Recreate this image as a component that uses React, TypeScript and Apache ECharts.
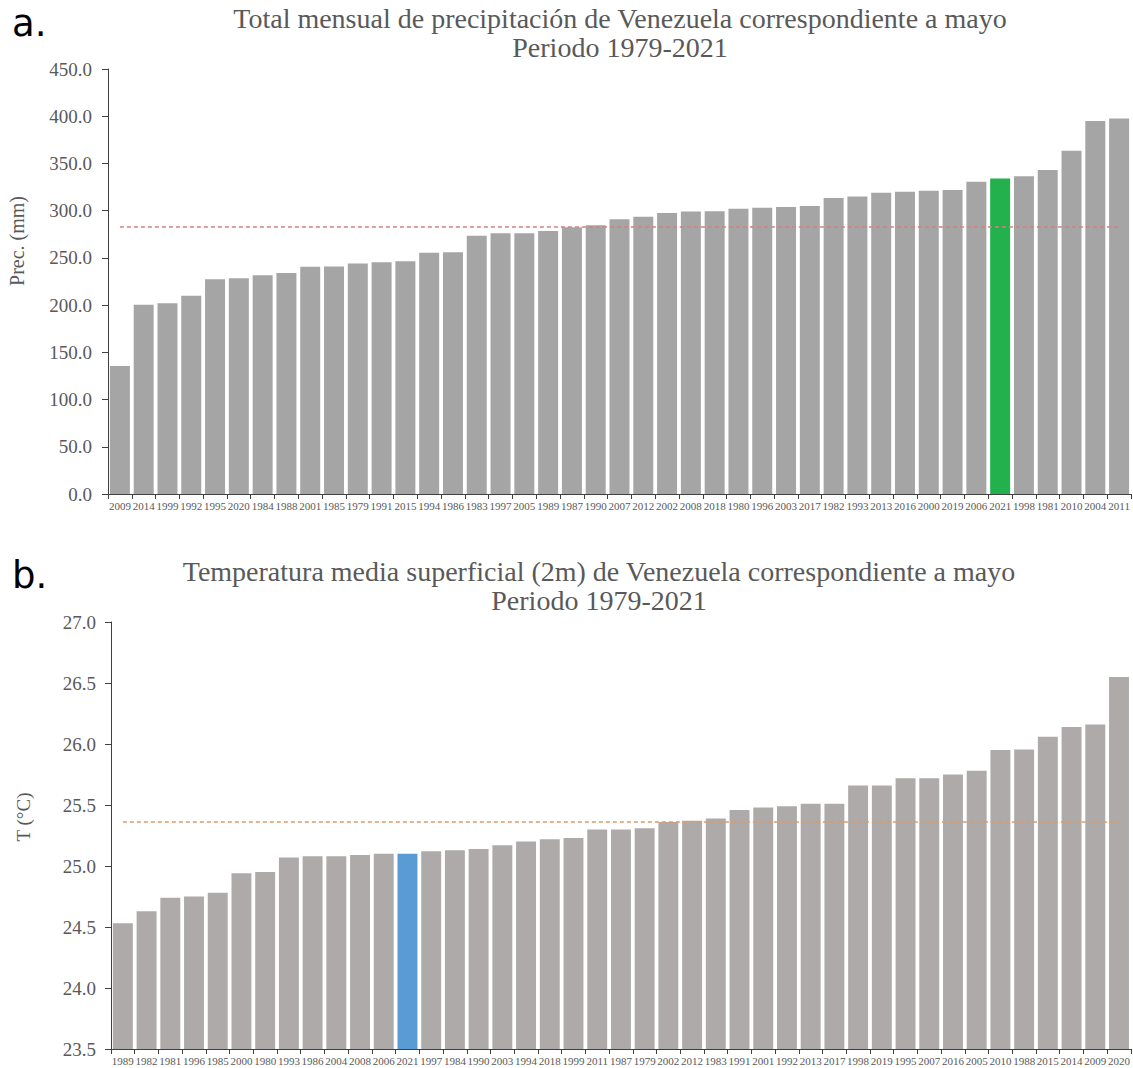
import React, { useEffect, useRef } from "react";
import * as echarts from "echarts";

const precipYears = [
  "2009", "2014", "1999", "1992", "1995", "2020", "1984", "1988", "2001", "1985", "1979",
  "1991", "2015", "1994", "1986", "1983", "1997", "2005", "1989", "1987", "1990", "2007",
  "2012", "2002", "2008", "2018", "1980", "1996", "2003", "2017", "1982", "1993", "2013",
  "2016", "2000", "2019", "2006", "2021", "1998", "1981", "2010", "2004", "2011",
];
const precipValues = [
  135.5, 200.5, 202.0, 210.0, 227.5, 228.5, 231.5, 234.0, 240.5, 241.0, 244.0,
  245.5, 246.5, 255.5, 256.0, 273.5, 276.0, 276.0, 278.5, 282.5, 284.5, 291.0,
  293.5, 297.5, 299.0, 299.5, 302.0, 303.0, 304.0, 305.0, 313.5, 315.0, 319.0,
  320.0, 321.0, 322.0, 330.5, 334.0, 336.5, 343.0, 363.5, 395.0, 397.5,
];
const precipMean = 282.7;

const tempYears = [
  "1989", "1982", "1981", "1996", "1985", "2000", "1980", "1993", "1986", "2004", "2008",
  "2006", "2021", "1997", "1984", "1990", "2003", "1994", "2018", "1999", "2011", "1987",
  "1979", "2002", "2012", "1983", "1991", "2001", "1992", "2013", "2017", "1998", "2019",
  "1995", "2007", "2016", "2005", "2010", "1988", "2015", "2014", "2009", "2020",
];
const tempValues = [
  24.53, 24.63, 24.74, 24.75, 24.78, 24.94, 24.95, 25.07, 25.08, 25.08, 25.09,
  25.10, 25.10, 25.12, 25.13, 25.14, 25.17, 25.20, 25.22, 25.23, 25.30, 25.30,
  25.31, 25.36, 25.37, 25.39, 25.46, 25.48, 25.49, 25.51, 25.51, 25.66, 25.66,
  25.72, 25.72, 25.75, 25.78, 25.95, 25.955, 26.06, 26.14, 26.16, 26.55,
];
const tempMean = 25.36;

const highlightYear = "2021";

const precipTitle = "Total mensual de precipitación de Venezuela correspondiente a mayo\nPeriodo 1979-2021";
const tempTitle = "Temperatura media superficial (2m) de Venezuela correspondiente a mayo\nPeriodo 1979-2021";

const SERIF = "'Liberation Serif', 'Times New Roman', serif";
const TEXT = "#595959";
const AXIS = "#404040";

export default function App() {
  const ref = useRef<HTMLDivElement>(null);

  useEffect(() => {
    if (!ref.current) return;
    const chart = echarts.init(ref.current, undefined, { renderer: "svg" });

    const xAxisCommon = (data: string[], gridIndex: number) => ({
      type: "category" as const,
      gridIndex,
      data,
      axisLine: { lineStyle: { color: AXIS, width: 1 } },
      axisTick: { show: true, length: 5, lineStyle: { color: AXIS } },
      axisLabel: { interval: 0, fontFamily: SERIF, fontSize: 11, color: TEXT, margin: 6 },
      splitLine: { show: false },
    });

    const yAxisCommon = (gridIndex: number, min: number, max: number, interval: number, margin: number) => ({
      type: "value" as const,
      gridIndex,
      min,
      max,
      interval,
      axisLine: { show: true, lineStyle: { color: AXIS, width: 1 } },
      axisTick: { show: true, length: 6, lineStyle: { color: AXIS } },
      axisLabel: {
        fontFamily: SERIF,
        fontSize: 19,
        color: TEXT,
        margin,
        formatter: (v: number) => v.toFixed(1),
      },
      splitLine: { show: false },
    });

    const barData = (years: string[], values: number[], color: string) =>
      values.map((v, i) =>
        years[i] === highlightYear ? { value: v, itemStyle: { color } } : v
      );

    const titleStyle = {
      fontFamily: SERIF,
      fontSize: 28,
      fontWeight: "normal" as const,
      color: TEXT,
      lineHeight: 29,
    };

    chart.setOption({
      animation: false,
      backgroundColor: "#ffffff",
      title: [
        { text: precipTitle, left: 615, top: -1, textAlign: "center", textStyle: titleStyle },
        { text: tempTitle, left: 594, top: 552, textAlign: "center", textStyle: titleStyle },
      ],
      graphic: [
        {
          type: "text",
          left: 12,
          top: 5,
          style: { text: "a.", fontFamily: "'DejaVu Sans', sans-serif", fontSize: 37, fill: "#000000" },
        },
        {
          type: "text",
          left: 12,
          top: 557,
          style: { text: "b.", fontFamily: "'DejaVu Sans', sans-serif", fontSize: 37, fill: "#000000" },
        },
        {
          type: "text",
          x: 17,
          y: 241,
          rotation: Math.PI / 2,
          style: {
            text: "Prec. (mm)",
            fontFamily: SERIF,
            fontSize: 20,
            fill: TEXT,
            align: "center",
            verticalAlign: "middle",
          },
        },
        {
          type: "text",
          x: 23,
          y: 817,
          rotation: Math.PI / 2,
          style: {
            text: "T (°C)",
            fontFamily: SERIF,
            fontSize: 19,
            fill: TEXT,
            align: "center",
            verticalAlign: "middle",
          },
        },
      ],
      grid: [
        { left: 108, top: 69, width: 1023, height: 425 },
        { left: 111, top: 622, width: 1020, height: 427 },
      ],
      xAxis: [xAxisCommon(precipYears, 0), xAxisCommon(tempYears, 1)],
      yAxis: [yAxisCommon(0, 0, 450, 50, 16), yAxisCommon(1, 23.5, 27, 0.5, 15)],
      series: [
        {
          type: "bar",
          xAxisIndex: 0,
          yAxisIndex: 0,
          data: barData(precipYears, precipValues, "#22b14c"),
          barCategoryGap: "16%",
          itemStyle: { color: "#a5a5a5" },
          silent: true,
        },
        {
          type: "line",
          xAxisIndex: 0,
          yAxisIndex: 0,
          data: precipYears.map(() => precipMean),
          symbol: "none",
          lineStyle: { color: "#d9807a", width: 1.5, type: [4, 3] },
          silent: true,
          z: 5,
        },
        {
          type: "bar",
          xAxisIndex: 1,
          yAxisIndex: 1,
          data: barData(tempYears, tempValues, "#5b9bd5"),
          barCategoryGap: "16%",
          itemStyle: { color: "#aeaaaa" },
          silent: true,
        },
        {
          type: "line",
          xAxisIndex: 1,
          yAxisIndex: 1,
          data: tempYears.map(() => tempMean),
          symbol: "none",
          lineStyle: { color: "#dc9a6c", width: 1.5, type: [4, 3] },
          silent: true,
          z: 5,
        },
      ],
    });

    return () => {
      chart.dispose();
    };
  }, []);

  return (
    <div
      ref={ref}
      style={{ position: "absolute", left: 0, top: 0, width: 1133, height: 1068, background: "#fff" }}
    />
  );
}
